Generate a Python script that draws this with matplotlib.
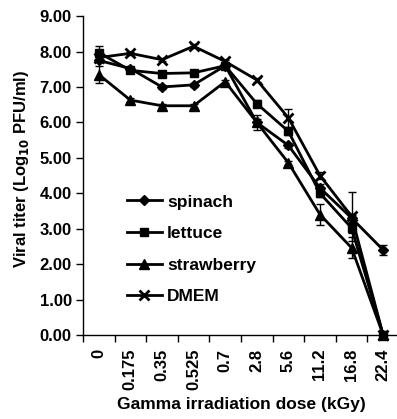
import matplotlib.pyplot as plt
import matplotlib.ticker as mticker
from matplotlib.lines import Line2D

doses = ['0', '0.175', '0.35', '0.525', '0.7', '2.8', '5.6', '11.2', '16.8', '22.4']

spinach = [7.75, 7.52, 7.00, 7.06, 7.60, 6.00, 5.35, 4.15, 3.30, 2.40]
lettuce = [7.97, 7.47, 7.38, 7.40, 7.60, 6.53, 5.75, 4.00, 3.02, 0.00]
strawberry = [7.35, 6.63, 6.47, 6.47, 7.15, 6.00, 4.86, 3.40, 2.46, 0.00]
dmem = [7.83, 7.95, 7.77, 8.15, 7.72, 7.20, 6.13, 4.50, 3.35, 0.00]

spinach_err = [0.05, 0.05, 0.05, 0.05, 0.05, 0.10, 0.08, 0.10, 0.10, 0.15]
lettuce_err = [0.20, 0.05, 0.05, 0.05, 0.05, 0.10, 0.10, 0.10, 0.15, 0.00]
strawberry_err = [0.25, 0.05, 0.05, 0.05, 0.05, 0.20, 0.05, 0.30, 0.30, 0.00]
dmem_err = [0.05, 0.05, 0.05, 0.05, 0.05, 0.05, 0.25, 0.10, 0.70, 0.00]

plt.rcParams['font.family'] = ['Liberation Sans', 'DejaVu Sans']
plt.rcParams['font.weight'] = 'bold'

fig = plt.figure(figsize=(3.97, 4.19), dpi=100)
ax = fig.add_axes([0.209, 0.2005, 0.796, 0.761])

x = list(range(len(doses)))
series = [
    ('spinach', spinach, spinach_err, 'D', 5.5),
    ('lettuce', lettuce, lettuce_err, 's', 6),
    ('strawberry', strawberry, strawberry_err, '^', 7),
    ('DMEM', dmem, dmem_err, 'x', 7),
]
handles = []
for name, vals, err, marker, ms in series:
    mew = 2 if marker == 'x' else 1
    ax.errorbar(x, vals, yerr=err, fmt='none', ecolor='black',
                elinewidth=1, capsize=3, clip_on=False, zorder=2)
    ax.plot(x, vals, color='black', marker=marker, markersize=ms,
            markeredgewidth=mew, linewidth=2, clip_on=False, zorder=3)
    handles.append(Line2D([], [], color='black', marker=marker, markersize=ms,
                          markeredgewidth=mew, linewidth=2, label=name))

ax.set_xlim(-0.5, len(doses) - 0.5)
ax.set_ylim(0, 9)
ax.set_yticks([i for i in range(10)])
ax.yaxis.set_major_formatter(mticker.FormatStrFormatter('%.2f'))
ax.set_xticks(x)
ax.set_xticklabels(doses, rotation=90)
ax.set_xticks([i - 0.5 for i in range(len(doses))], minor=True)
ax.tick_params(axis='x', which='major', length=0, pad=10, labelsize=12)
ax.tick_params(axis='x', which='minor', length=5, width=1)
ax.tick_params(axis='y', length=5, width=1, labelsize=12, pad=3)
for lbl in ax.get_xticklabels() + ax.get_yticklabels():
    lbl.set_fontweight('bold')

ax.spines['top'].set_visible(False)
ax.spines['right'].set_visible(False)
ax.spines['left'].set_linewidth(1)
ax.spines['bottom'].set_linewidth(1)

ax.set_xlabel('Gamma irradiation dose (kGy)', fontsize=12.5, fontweight='bold', labelpad=5)
ax.set_ylabel('Viral titer (Log$_{10}$ PFU/ml)', fontsize=12, fontweight='bold')
ax.yaxis.set_label_coords(-0.165, 0.52)

ax.legend(handles=handles, loc='upper left', bbox_to_anchor=(0.09, 0.49), frameon=False,
          handlelength=2.0, labelspacing=0.95, prop={'weight': 'bold', 'size': 12.5},
          handletextpad=0.3)

fig.savefig('out.png', dpi=100)
